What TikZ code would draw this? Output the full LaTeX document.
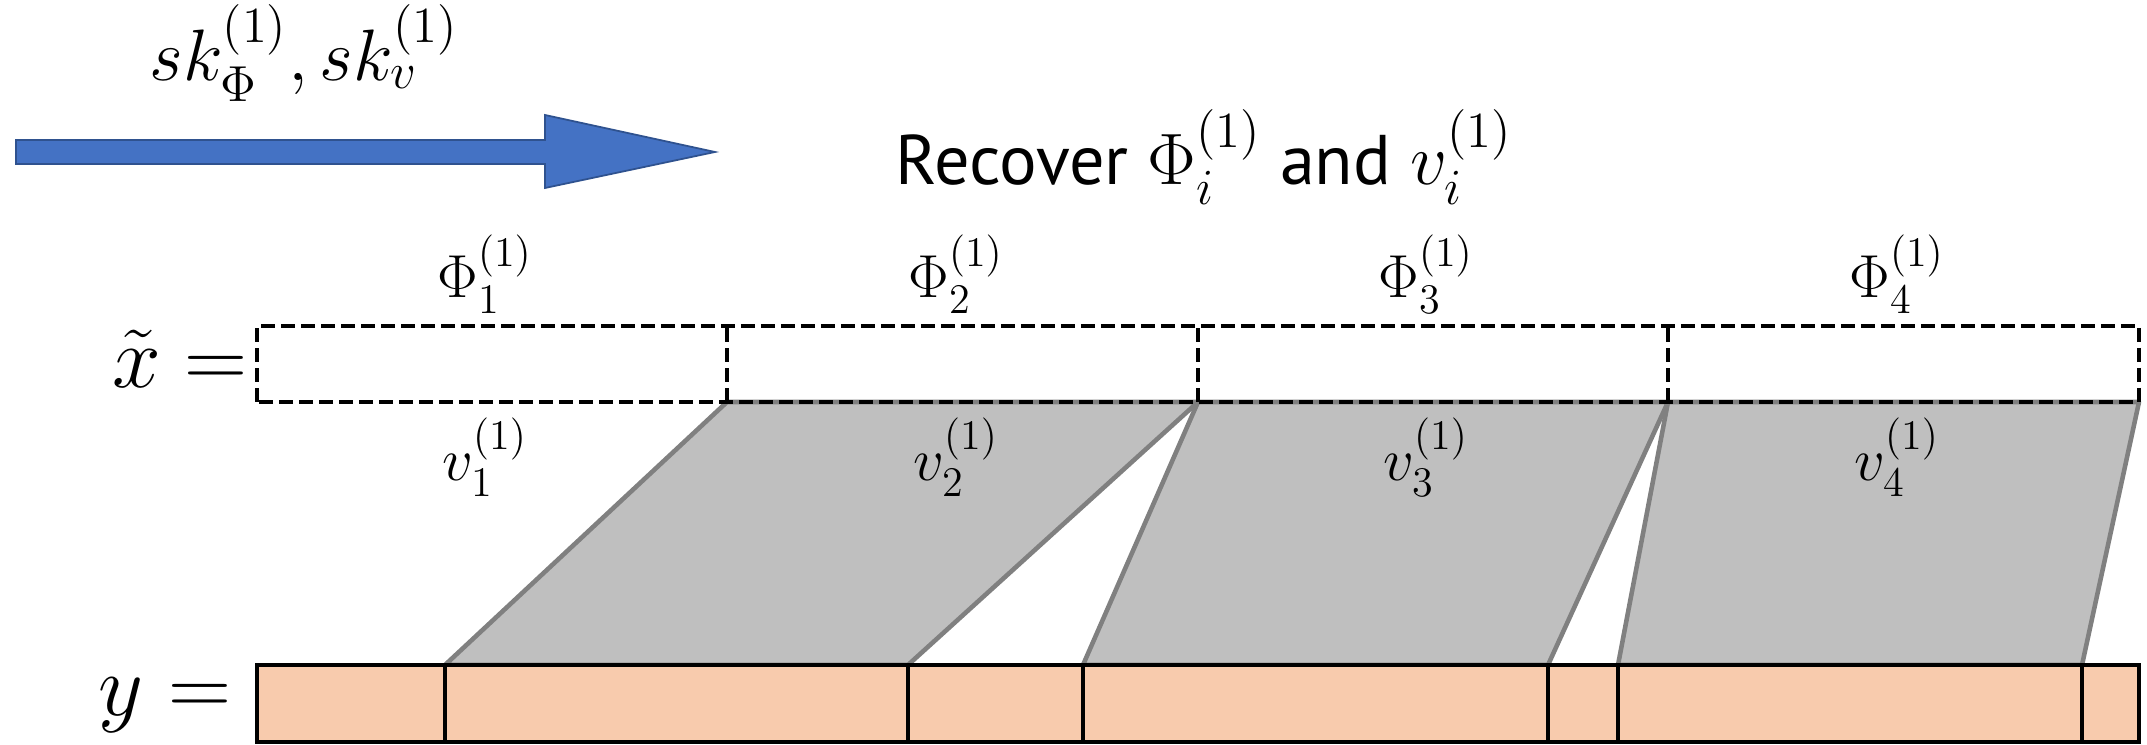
\documentclass[tikz,border=0pt]{standalone}
\usepackage{amsmath}
\usepackage{fontspec}
\setsansfont{PT Sans}
\usetikzlibrary{positioning}
\usetikzlibrary{calc}
\definecolor{arrowblue}{HTML}{4472C4}
\definecolor{arrowedge}{HTML}{2F528F}
\definecolor{cellorange}{HTML}{F8CBAD}
\definecolor{shadegray}{HTML}{BFBFBF}
\definecolor{edgegray}{HTML}{808080}

\begin{document}
\begin{tikzpicture}[x=1cm, y=1cm,
		dashed cell/.style={draw, dash pattern=on 0.14cm off 0.06cm, line width=0.9pt},
		y cell/.style={draw, fill=cellorange, line width=0.9pt},
		shade/.style={fill=shadegray, draw=edgegray, line width=1.3pt, line join=round},
		cell label/.style={font=\fontsize{18}{21}\selectfont},
		big label/.style={font=\fontsize{23}{27}\selectfont}
		]
		\useasboundingbox (0,0) rectangle (21.47,7.45);
		
		% corners on the x row
		\coordinate (t0) at (2.57, 3.43);
		\coordinate (t1) at (7.27, 3.43);
		\coordinate (t2) at (11.98, 3.43);
		\coordinate (t3) at (16.68, 3.43);
		\coordinate (t4) at (21.39, 3.43);
		% corners on the y row
		\coordinate (b0) at (2.57, 0.80);
		\coordinate (b1) at (4.45, 0.80);
		\coordinate (b2) at (9.08, 0.80);
		\coordinate (b3) at (10.83, 0.80);
		\coordinate (b4) at (15.48, 0.80);
		\coordinate (b5) at (16.18, 0.80);
		\coordinate (b6) at (20.82, 0.80);
		\coordinate (b7) at (21.39, 0.80);
		
		% shaded maps
		\draw[shade] (t1) -- (t2) -- (b2) -- (b1) -- cycle;
		\draw[shade] (t2) -- (t3) -- (b4) -- (b3) -- cycle;
		\draw[shade] (t3) -- (t4) -- (b6) -- (b5) -- cycle;
		
		% x row
		\draw[dashed cell] (t0) rectangle ($(t4)+(0,0.76)$);
		\draw[dashed cell] (t1) -- ++(0,0.76);
		\draw[dashed cell] (t2) -- ++(0,0.76);
		\draw[dashed cell] (t3) -- ++(0,0.76);
		
		% y row
		\draw[y cell] ($(b0)+(0,-0.77)$) rectangle (b1);
		\draw[y cell] ($(b1)+(0,-0.77)$) rectangle (b2);
		\draw[y cell] ($(b2)+(0,-0.77)$) rectangle (b3);
		\draw[y cell] ($(b3)+(0,-0.77)$) rectangle (b4);
		\draw[y cell] ($(b4)+(0,-0.77)$) rectangle (b5);
		\draw[y cell] ($(b5)+(0,-0.77)$) rectangle (b6);
		\draw[y cell] ($(b6)+(0,-0.77)$) rectangle (b7);
		
		% labels
		\node[big label] (xt) at (1.80, 3.86) {$\tilde{x} =$};
		\node[big label] (yl) at (1.65, 0.40) {$y =$};
		\node[cell label] (p1) at (4.85, 4.71) {$\Phi_1^{(1)}$};
		\node[cell label] (p2) at (9.56, 4.71) {$\Phi_2^{(1)}$};
		\node[cell label] (p3) at (14.26, 4.71) {$\Phi_3^{(1)}$};
		\node[cell label] (p4) at (18.97, 4.71) {$\Phi_4^{(1)}$};
		\node[cell label] (v1) at (4.85, 2.88) {$v_1^{(1)}$};
		\node[cell label] (v2) at (9.56, 2.88) {$v_2^{(1)}$};
		\node[cell label] (v3) at (14.26, 2.88) {$v_3^{(1)}$};
		\node[cell label] (v4) at (18.97, 2.88) {$v_4^{(1)}$};
		
		% key arrow
		\draw[fill=arrowblue, draw=arrowedge, line width=0.5pt]
			(0.16, 6.05) -- (5.45, 6.05) -- (5.45, 6.30) -- (7.15, 5.93)
			-- (5.45, 5.57) -- (5.45, 5.81) -- (0.16, 5.81) -- cycle;
		\node[font=\fontsize{20}{24}\selectfont] (key) at (3.04, 6.92) {$sk_{\Phi}^{(1)}, sk_{v}^{(1)}$};
		\node[font=\sffamily\fontsize{20}{24}\selectfont] (rec) at (12.04, 5.88) {Recover $\Phi_i^{(1)}$ and $v_i^{(1)}$};
	\end{tikzpicture}
\end{document}
